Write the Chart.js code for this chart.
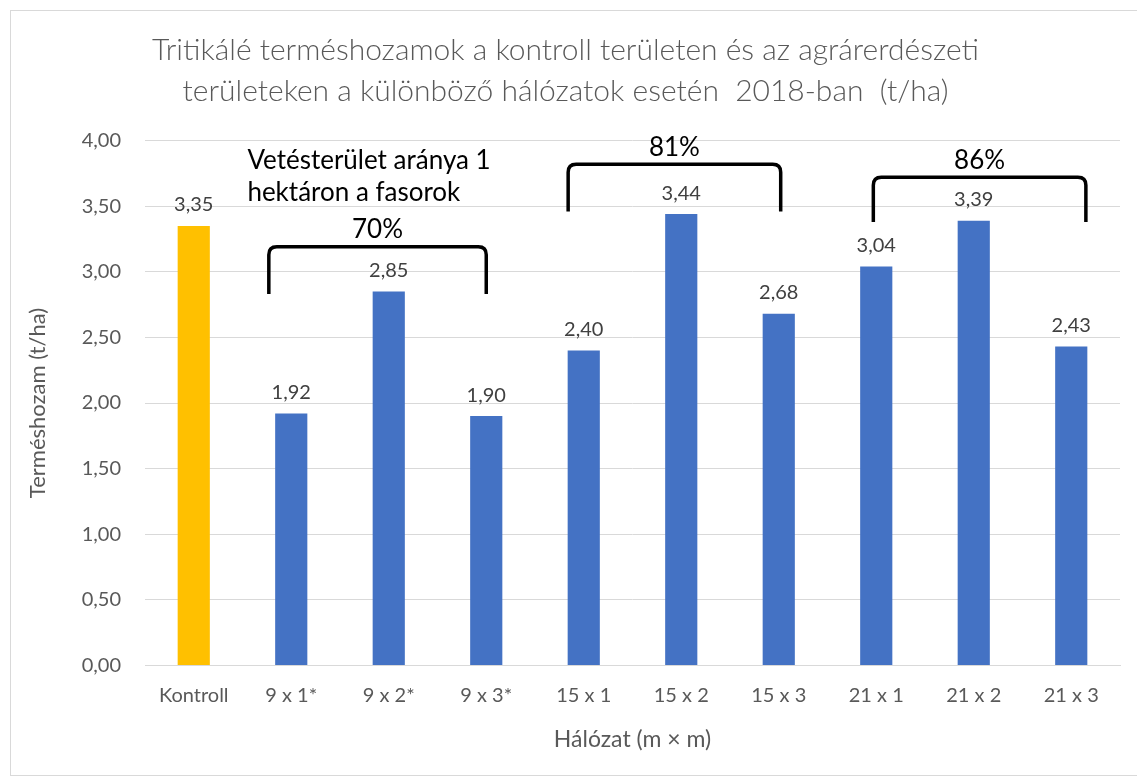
<!DOCTYPE html>
<html>
<head>
  <title>Tritikálé terméshozamok 2018</title>
  <script src="https://cdn.jsdelivr.net/npm/chart.js"></script>
  <style>
    body { margin: 0; background: #fff; }
    #wrap { position: absolute; left: 10px; top: 10px; width: 1126px; height: 764px; border: 1px solid #d9d9d9; }
  </style>
</head>
<body>
  <div id="wrap"><canvas id="yieldChart"></canvas></div>

  <script>
    const categories = ['Kontroll', '9 x 1*', '9 x 2*', '9 x 3*', '15 x 1', '15 x 2', '15 x 3', '21 x 1', '21 x 2', '21 x 3'];
    const yields = [3.35, 1.92, 2.85, 1.90, 2.40, 3.44, 2.68, 3.04, 3.39, 2.43];
    const barColors = ['#ffc000', '#4472c4', '#4472c4', '#4472c4', '#4472c4', '#4472c4', '#4472c4', '#4472c4', '#4472c4', '#4472c4'];
    const yTicks = [0, 0.5, 1, 1.5, 2, 2.5, 3, 3.5, 4];

    // brackets over the tree-row groups: from/to category index, top/bottom value
    const bracketLabels = ['70%', '81%', '86%'];
    const bracketFrom = [0.77, 3.84, 6.97];
    const bracketTo = [3.0, 6.02, 9.15];
    const bracketTop = [3.19, 3.82, 3.72];
    const bracketBottom = [2.83, 3.46, 3.38];

    const noteLines = ['Vetésterület aránya 1', 'hektáron a fasorok'];
    const noteIndex = 0.55;
    const noteValues = [3.85, 3.60];

    const fmt = v => v.toFixed(2).replace('.', ',');

    const overlay = {
      id: 'overlay',
      afterDatasetsDraw(chart) {
        const ctx = chart.ctx;
        const x = chart.scales.x, y = chart.scales.y;
        const step = x.getPixelForValue(1) - x.getPixelForValue(0);
        const px = i => x.getPixelForValue(0) + i * step;
        ctx.save();

        // value labels
        ctx.font = '20px Lato';
        ctx.fillStyle = '#404040';
        ctx.textAlign = 'center';
        ctx.textBaseline = 'bottom';
        chart.getDatasetMeta(0).data.forEach((bar, i) => {
          ctx.fillText(fmt(yields[i]), bar.x, bar.y - 11);
        });

        // brackets
        ctx.strokeStyle = '#000';
        ctx.lineWidth = 3.5;
        ctx.font = '26px Lato';
        ctx.fillStyle = '#000';
        bracketLabels.forEach((lab, k) => {
          const x0 = px(bracketFrom[k]), x1 = px(bracketTo[k]);
          const yt = y.getPixelForValue(bracketTop[k]), yb = y.getPixelForValue(bracketBottom[k]);
          const r = 8;
          ctx.beginPath();
          ctx.moveTo(x0, yb);
          ctx.lineTo(x0, yt + r);
          ctx.quadraticCurveTo(x0, yt, x0 + r, yt);
          ctx.lineTo(x1 - r, yt);
          ctx.quadraticCurveTo(x1, yt, x1, yt + r);
          ctx.lineTo(x1, yb);
          ctx.stroke();
          ctx.textBaseline = 'bottom';
          ctx.fillText(lab, (x0 + x1) / 2, yt - 4);
        });

        // note
        ctx.textAlign = 'left';
        ctx.textBaseline = 'middle';
        noteLines.forEach((t, i) => {
          ctx.fillText(t, px(noteIndex), y.getPixelForValue(noteValues[i]));
        });
        ctx.restore();
      }
    };

    const ctx = document.getElementById('yieldChart').getContext('2d');
    new Chart(ctx, {
      type: 'bar',
      data: {
        labels: categories,
        datasets: [{
          data: yields,
          backgroundColor: barColors,
          barPercentage: 0.66,
          categoryPercentage: 0.5
        }]
      },
      options: {
        responsive: true,
        maintainAspectRatio: false,
        animation: false,
        layout: { padding: { left: 0, right: 17, top: 0, bottom: 18 } },
        plugins: {
          legend: { display: false },
          tooltip: { enabled: false },
          title: {
            display: true,
            text: ['Tritikálé terméshozamok a kontroll területen és az agrárerdészeti', 'területeken a különböző hálózatok esetén  2018-ban  (t/ha)'],
            color: '#595959',
            font: { family: 'Lato', size: 30, weight: '300', lineHeight: 1.36 },
            padding: { top: 19, bottom: 29 }
          }
        },
        scales: {
          x: {
            grid: { display: false },
            border: { color: '#d9d9d9', width: 1 },
            ticks: { color: '#595959', font: { family: 'Lato', size: 20 }, padding: 10 },
            title: { display: true, text: 'Hálózat (m × m)', color: '#595959', font: { family: 'Lato', size: 23 }, padding: { top: 8 } }
          },
          y: {
            min: 0,
            max: 4,
            afterBuildTicks: axis => { axis.ticks = yTicks.map(v => ({ value: v })); },
            afterFit: axis => { axis.width = 134; },
            grid: { color: '#d9d9d9', lineWidth: 1, drawTicks: false },
            border: { display: false },
            ticks: { color: '#595959', font: { family: 'Lato', size: 20 }, padding: 24, callback: v => fmt(v) },
            title: { display: true, text: 'Terméshozam (t/ha)', color: '#595959', font: { family: 'Lato', size: 22 }, padding: { top: 14, bottom: 0 } }
          }
        }
      },
      plugins: [overlay]
    });
  </script>
</body>
</html>
